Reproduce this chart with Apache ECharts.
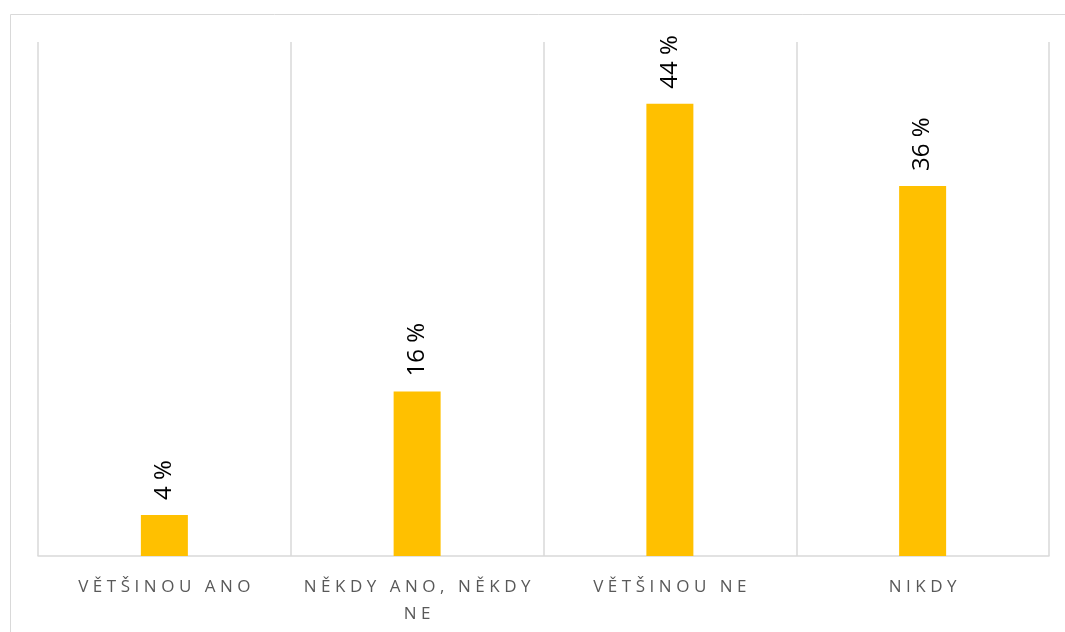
<!DOCTYPE html>
<html>
<head>
<meta charset="utf-8">
<script src="https://cdn.jsdelivr.net/npm/echarts@6/dist/echarts.min.js"></script>
<style>html,body{margin:0;padding:0;background:#fff}#c{width:1065px;height:632px}</style>
</head>
<body>
<div id="c"></div>
<script>
const categories = ['VĚTŠINOU ANO', 'NĚKDY ANO, NĚKDY NE', 'VĚTŠINOU NE', 'NIKDY'];
const values = [4, 16, 44, 36];

const chart = echarts.init(document.getElementById('c'));
const spaced = s => s.split('').join('\u2009\u200A');
chart.setOption({
  animation: false,
  graphic: [{
    type: 'rect', left: 8, top: 12, shape: { width: 1100, height: 700 },
    style: { fill: 'none', stroke: '#d9d9d9', lineWidth: 1 }, silent: true
  }],
  grid: { left: 38, right: 16, top: 42, bottom: 76, outerBoundsMode: 'none', containLabel: false },
  xAxis: {
    type: 'category', data: categories,
    axisLine: { lineStyle: { color: '#d9d9d9', width: 1.5 } },
    axisTick: { show: false },
    splitLine: { show: true, lineStyle: { color: '#d9d9d9', width: 1.5 } },
    axisLabel: {
      interval: 0, margin: 18, color: '#595959', fontSize: 17,
      fontFamily: 'Open Sans', lineHeight: 27, hideOverlap: false,
      formatter: v => v === 'NĚKDY ANO, NĚKDY NE' ? spaced('NĚKDY ANO, NĚKDY') + '\n' + spaced('NE') : spaced(v)
    }
  },
  yAxis: { type: 'value', min: 0, max: 50, show: false, splitLine: { show: false } },
  series: [{
    type: 'bar', data: values, barWidth: 47,
    itemStyle: { color: '#FFC000' },
    label: {
      show: true, position: 'top', rotate: 90, align: 'left', verticalAlign: 'middle',
      distance: 15, color: '#000', fontSize: 24, fontFamily: 'Open Sans',
      formatter: p => p.value + ' %'
    }
  }]
});
</script>
</body>
</html>
